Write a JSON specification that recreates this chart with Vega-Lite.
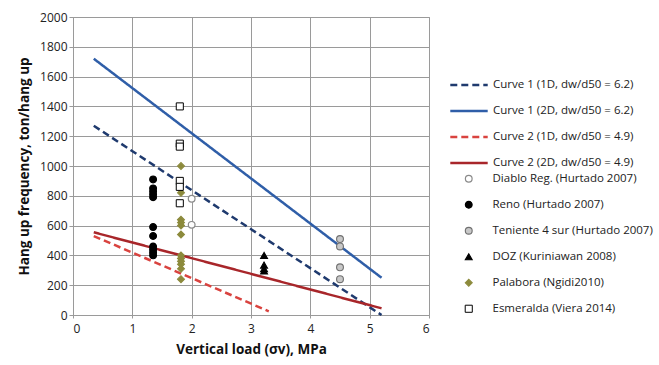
{
  "$schema": "https://vega.github.io/schema/vega-lite/v6.json",
  "width": 356,
  "height": 298,
  "autosize": "none",
  "padding": {"left": 73, "top": 17, "right": 230, "bottom": 50},
  "background": "white",
  "config": {
    "font": "Open Sans",
    "view": {"stroke": "#9a9a9a", "strokeWidth": 1},
    "axis": {
      "gridColor": "#9a9a9a",
      "gridWidth": 1,
      "domainColor": "#9a9a9a",
      "tickColor": "#9a9a9a",
      "labelColor": "#222",
      "labelFontSize": 12,
      "format": "d",
      "titleFontSize": 13.5,
      "titleFontWeight": "bold",
      "titleColor": "#111"
    },
    "legend": {
      "labelFontSize": 11.5,
      "labelColor": "#222",
      "labelLimit": 300,
      "title": null
    }
  },
  "datasets": {
    "curves": [
      {"series": "Curve 1 (1D, dw/d50 = 6.2)", "x": 0.35, "y": 1270},
      {"series": "Curve 1 (1D, dw/d50 = 6.2)", "x": 5.2, "y": 0},
      {"series": "Curve 1 (2D, dw/d50 = 6.2)", "x": 0.35, "y": 1720},
      {"series": "Curve 1 (2D, dw/d50 = 6.2)", "x": 5.2, "y": 250},
      {"series": "Curve 2 (1D, dw/d50 = 4.9)", "x": 0.35, "y": 530},
      {"series": "Curve 2 (1D, dw/d50 = 4.9)", "x": 3.3, "y": 25},
      {"series": "Curve 2 (2D, dw/d50 = 4.9)", "x": 0.35, "y": 555},
      {"series": "Curve 2 (2D, dw/d50 = 4.9)", "x": 5.2, "y": 45}
    ],
    "points": [
      {"site": "Diablo Reg. (Hurtado 2007)", "x": 2.0, "y": 780},
      {"site": "Diablo Reg. (Hurtado 2007)", "x": 2.0, "y": 605},
      {"site": "Reno (Hurtado 2007)", "x": 1.35, "y": 910},
      {"site": "Reno (Hurtado 2007)", "x": 1.35, "y": 850},
      {"site": "Reno (Hurtado 2007)", "x": 1.35, "y": 830},
      {"site": "Reno (Hurtado 2007)", "x": 1.35, "y": 810},
      {"site": "Reno (Hurtado 2007)", "x": 1.35, "y": 790},
      {"site": "Reno (Hurtado 2007)", "x": 1.35, "y": 590},
      {"site": "Reno (Hurtado 2007)", "x": 1.35, "y": 530},
      {"site": "Reno (Hurtado 2007)", "x": 1.35, "y": 460},
      {"site": "Reno (Hurtado 2007)", "x": 1.35, "y": 440},
      {"site": "Reno (Hurtado 2007)", "x": 1.35, "y": 420},
      {"site": "Reno (Hurtado 2007)", "x": 1.35, "y": 400},
      {"site": "Teniente 4 sur (Hurtado 2007)", "x": 4.5, "y": 510},
      {"site": "Teniente 4 sur (Hurtado 2007)", "x": 4.5, "y": 460},
      {"site": "Teniente 4 sur (Hurtado 2007)", "x": 4.5, "y": 320},
      {"site": "Teniente 4 sur (Hurtado 2007)", "x": 4.5, "y": 240},
      {"site": "DOZ (Kuriniawan 2008)", "x": 3.22, "y": 400},
      {"site": "DOZ (Kuriniawan 2008)", "x": 3.22, "y": 335},
      {"site": "DOZ (Kuriniawan 2008)", "x": 3.22, "y": 310},
      {"site": "DOZ (Kuriniawan 2008)", "x": 3.22, "y": 295},
      {"site": "Palabora (Ngidi2010)", "x": 1.82, "y": 1000},
      {"site": "Palabora (Ngidi2010)", "x": 1.82, "y": 820},
      {"site": "Palabora (Ngidi2010)", "x": 1.82, "y": 640},
      {"site": "Palabora (Ngidi2010)", "x": 1.82, "y": 620},
      {"site": "Palabora (Ngidi2010)", "x": 1.82, "y": 600},
      {"site": "Palabora (Ngidi2010)", "x": 1.82, "y": 540},
      {"site": "Palabora (Ngidi2010)", "x": 1.82, "y": 400},
      {"site": "Palabora (Ngidi2010)", "x": 1.82, "y": 380},
      {"site": "Palabora (Ngidi2010)", "x": 1.82, "y": 360},
      {"site": "Palabora (Ngidi2010)", "x": 1.82, "y": 340},
      {"site": "Palabora (Ngidi2010)", "x": 1.82, "y": 310},
      {"site": "Palabora (Ngidi2010)", "x": 1.82, "y": 240},
      {"site": "Esmeralda (Viera 2014)", "x": 1.8, "y": 1400},
      {"site": "Esmeralda (Viera 2014)", "x": 1.8, "y": 1150},
      {"site": "Esmeralda (Viera 2014)", "x": 1.8, "y": 1130},
      {"site": "Esmeralda (Viera 2014)", "x": 1.8, "y": 900},
      {"site": "Esmeralda (Viera 2014)", "x": 1.8, "y": 860},
      {"site": "Esmeralda (Viera 2014)", "x": 1.8, "y": 750}
    ]
  },
  "encoding": {
    "x": {
      "field": "x", "type": "quantitative",
      "scale": {"domain": [0, 6], "nice": false},
      "axis": {"values": [0, 1, 2, 3, 4, 5, 6], "tickCount": 30, "labelOverlap": false, "title": "Vertical load (σv), MPa", "titlePadding": 8, "tickSize": 3, "labelPadding": 5}
    },
    "y": {
      "field": "y", "type": "quantitative",
      "scale": {"domain": [0, 2000], "nice": false},
      "axis": {"values": [0, 200, 400, 600, 800, 1000, 1200, 1400, 1600, 1800, 2000], "tickCount": 30, "labelOverlap": false, "labelFlush": false, "title": "Hang up frequency, ton/hang up", "titlePadding": 8, "tickSize": 4}
    }
  },
  "layer": [
    {
      "data": {"name": "curves"},
      "mark": {"type": "line", "strokeWidth": 2.5},
      "encoding": {
        "color": {
          "field": "series", "type": "nominal",
          "scale": {
            "domain": ["Curve 1 (1D, dw/d50 = 6.2)", "Curve 1 (2D, dw/d50 = 6.2)", "Curve 2 (1D, dw/d50 = 4.9)", "Curve 2 (2D, dw/d50 = 4.9)"],
            "range": ["#1f3a6e", "#2f5ea8", "#d9433f", "#a8262a"]
          },
          "legend": {"orient": "none", "legendX": 376, "legendY": 48, "symbolType": "stroke", "symbolSize": 1400, "symbolStrokeWidth": 2.5, "rowPadding": 0, "labelOffset": 4}
        },
        "strokeDash": {
          "field": "series", "type": "nominal",
          "scale": {
            "domain": ["Curve 1 (1D, dw/d50 = 6.2)", "Curve 1 (2D, dw/d50 = 6.2)", "Curve 2 (1D, dw/d50 = 4.9)", "Curve 2 (2D, dw/d50 = 4.9)"],
            "range": [[7, 4], [1, 0], [7, 4], [1, 0]]
          }
        }
      }
    },
    {
      "data": {"name": "points"},
      "mark": {"type": "point", "opacity": 1},
      "encoding": {
        "shape": {
          "field": "site", "type": "nominal",
          "scale": {
            "domain": ["Diablo Reg. (Hurtado 2007)", "Reno (Hurtado 2007)", "Teniente 4 sur (Hurtado 2007)", "DOZ (Kuriniawan 2008)", "Palabora (Ngidi2010)", "Esmeralda (Viera 2014)"],
            "range": ["circle", "circle", "circle", "triangle-up", "diamond", "square"]
          },
          "legend": {"orient": "none", "legendX": 390, "legendY": 156, "rowPadding": 13, "labelOffset": 18}
        },
        "stroke": {
          "field": "site", "type": "nominal",
          "scale": {
            "domain": ["Diablo Reg. (Hurtado 2007)", "Reno (Hurtado 2007)", "Teniente 4 sur (Hurtado 2007)", "DOZ (Kuriniawan 2008)", "Palabora (Ngidi2010)", "Esmeralda (Viera 2014)"],
            "range": ["#8a8a8a", "#000000", "#707070", "#000000", "#8c8a3c", "#000000"]
          }
        },
        "fill": {
          "field": "site", "type": "nominal",
          "scale": {
            "domain": ["Diablo Reg. (Hurtado 2007)", "Reno (Hurtado 2007)", "Teniente 4 sur (Hurtado 2007)", "DOZ (Kuriniawan 2008)", "Palabora (Ngidi2010)", "Esmeralda (Viera 2014)"],
            "range": ["#ffffff", "#000000", "#c8c8c8", "#000000", "#8c8a3c", "#ffffff"]
          }
        },
        "size": {
          "field": "site", "type": "nominal",
          "scale": {
            "domain": ["Diablo Reg. (Hurtado 2007)", "Reno (Hurtado 2007)", "Teniente 4 sur (Hurtado 2007)", "DOZ (Kuriniawan 2008)", "Palabora (Ngidi2010)", "Esmeralda (Viera 2014)"],
            "range": [45, 50, 50, 35, 18, 55]
          }
        },
        "strokeWidth": {
          "field": "site", "type": "nominal",
          "scale": {
            "domain": ["Diablo Reg. (Hurtado 2007)", "Reno (Hurtado 2007)", "Teniente 4 sur (Hurtado 2007)", "DOZ (Kuriniawan 2008)", "Palabora (Ngidi2010)", "Esmeralda (Viera 2014)"],
            "range": [1.2, 1, 2, 1, 1, 2]
          }
        }
      }
    }
  ]
}
